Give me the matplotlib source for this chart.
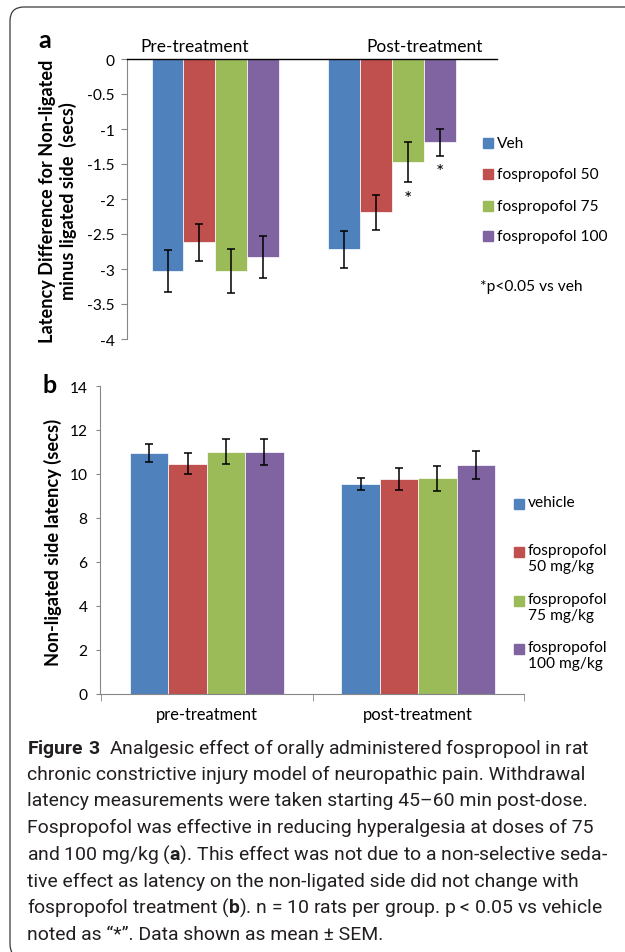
import matplotlib
matplotlib.use("Agg")
import matplotlib.pyplot as plt
from matplotlib import font_manager as fm
from matplotlib.patches import Rectangle, FancyBboxPatch
from matplotlib.transforms import IdentityTransform
import numpy as np

# ---- data ----
groups_a = ["Pre-treatment", "Post-treatment"]
series_a = ["Veh", "fospropofol 50", "fospropofol 75", "fospropofol 100"]
veh_a = [-3.03, -2.72]
f50_a = [-2.62, -2.19]
f75_a = [-3.03, -1.47]
f100_a = [-2.83, -1.19]
veh_a_sem = [0.30, 0.26]
f50_a_sem = [0.27, 0.25]
f75_a_sem = [0.31, 0.29]
f100_a_sem = [0.30, 0.19]
# (series index, group index) marked with *
sig_a = [(2, 1), (3, 1)]

groups_b = ["pre-treatment", "post-treatment"]
series_b = ["vehicle\n", "fospropofol\n50 mg/kg", "fospropofol\n75 mg/kg", "fospropofol\n100 mg/kg"]
veh_b = [10.95, 9.55]
f50_b = [10.47, 9.77]
f75_b = [11.01, 9.80]
f100_b = [10.99, 10.41]
veh_b_sem = [0.42, 0.29]
f50_b_sem = [0.47, 0.49]
f75_b_sem = [0.56, 0.55]
f100_b_sem = [0.58, 0.63]

yticks_a = [0, -0.5, -1, -1.5, -2, -2.5, -3, -3.5, -4]
yticks_b = [0, 2, 4, 6, 8, 10, 12, 14]

colors = ["#4F81BD", "#C0504D", "#9BBB59", "#8064A2"]

caption = [
    r"$\mathbf{Figure\ 3}$  Analgesic effect of orally administered fospropool in rat",
    "chronic constrictive injury model of neuropathic pain. Withdrawal",
    "latency measurements were taken starting 45\u201360 min post-dose.",
    "Fospropofol was effective in reducing hyperalgesia at doses of 75",
    r"and 100 mg/kg ($\mathbf{a}$). This effect was not due to a non-selective seda-",
    "tive effect as latency on the non-ligated side did not change with",
    r"fospropofol treatment ($\mathbf{b}$). n = 10 rats per group. p < 0.05 vs vehicle",
    "noted as \u201c*\u201d. Data shown as mean \u00b1 SEM.",
]


def has_font(name):
    try:
        fm.findfont(fm.FontProperties(family=name), fallback_to_default=False)
        return True
    except ValueError:
        return False


chart_font = "Lato" if has_font("Lato") else "DejaVu Sans"
cap_font = "Liberation Sans Narrow" if has_font("Liberation Sans Narrow") else "Roboto"

plt.rcParams["font.family"] = [chart_font, "DejaVu Sans"]
plt.rcParams["axes.unicode_minus"] = False
plt.rcParams["mathtext.fontset"] = "custom"
plt.rcParams["mathtext.rm"] = cap_font
plt.rcParams["mathtext.bf"] = cap_font + ":bold"

W, H = 625, 953
fig = plt.figure(figsize=(W / 100, H / 100), dpi=100)
renderer = fig.canvas.get_renderer()


def fx(px):
    return px / W


def fy(py):
    return 1 - py / H


def fit_size(s, target_px, **kw):
    # font size that makes string s about target_px wide
    t = fig.text(0, 0, s, fontsize=20, **kw)
    wpx = t.get_window_extent(renderer).width
    t.remove()
    return 20 * target_px / wpx


fs = fit_size("fospropofol 100", 110)
fs_cat = fit_size("Pre-treatment", 109)
fs_catb = fit_size("pre-treatment", 103)
fs_ya = fit_size("Latency Difference for Non-ligated", 282, fontweight="bold")
fs_yb = fit_size("Non-ligated side latency (secs)", 247, fontweight="bold")
cap_size = fit_size(caption[1], 555, family=cap_font)

gray = "#868686"

# ---------------- panel a ----------------
axa = fig.add_axes([fx(127), fy(340), fx(497) - fx(127), fy(60) - fy(340)])
means_a = [veh_a, f50_a, f75_a, f100_a]
sems_a = [veh_a_sem, f50_a_sem, f75_a_sem, f100_a_sem]
x = np.arange(len(groups_a))
w = 0.181
for i, (m, s) in enumerate(zip(means_a, sems_a)):
    xs = x + (i - 1.5) * w
    axa.bar(xs, m, w, color=colors[i], edgecolor="white", linewidth=0.5, zorder=2)
    axa.errorbar(xs, m, yerr=s, fmt="none", ecolor="black", elinewidth=1.1,
                 capsize=3, capthick=1.1, zorder=3)
for si, gi in sig_a:
    xs = x[gi] + (si - 1.5) * w
    y0 = means_a[si][gi] - sems_a[si][gi]
    axa.annotate("*", xy=(xs, y0), xytext=(0, -5.5), textcoords="offset points",
                 ha="center", va="top", fontsize=fs * 1.25)
axa.set_xlim(-0.501, 1.595)
axa.set_ylim(-4, 0)
axa.set_yticks(yticks_a)
axa.set_yticklabels(["%g" % v for v in yticks_a])
axa.set_xticks([])
for sp in ["bottom", "right"]:
    axa.spines[sp].set_visible(False)
axa.spines["top"].set_color("black")
axa.spines["top"].set_linewidth(1.0)
axa.spines["left"].set_color(gray)
axa.tick_params(axis="y", colors=gray, labelcolor="black", labelsize=fs,
                length=4, pad=5)
# category labels sit above the zero line
for gx, name in zip([-0.116, 1.187], groups_a):
    axa.annotate(name, xy=(gx, 0), xytext=(0, 9.5), textcoords="offset points",
                 ha="center", va="center", fontsize=fs_cat)

fig.text(fx(45), fy(41), "a", fontsize=18, fontweight="bold", ha="center", va="center")
fig.text(fx(58), fy(201), "Latency Difference for Non-ligated\nminus ligated side  (secs)",
         rotation=90, fontsize=fs_ya, fontweight="bold", ha="center", va="center",
         linespacing=1.15)

# legend a
for i, (lab, yy) in enumerate(zip(series_a, [144, 175, 207, 237])):
    fig.patches.append(Rectangle((fx(483), fy(yy + 5)), fx(10), 10 / H,
                                 transform=fig.transFigure, color=colors[i]))
    fig.text(fx(497), fy(yy), lab, fontsize=fs, ha="left", va="center")
fig.text(fx(480), fy(287), "*p<0.05 vs veh", fontsize=fs, ha="left", va="center")

# ---------------- panel b ----------------
axb = fig.add_axes([fx(100), fy(695), fx(524) - fx(100), fy(387) - fy(695)])
means_b = [veh_b, f50_b, f75_b, f100_b]
sems_b = [veh_b_sem, f50_b_sem, f75_b_sem, f100_b_sem]
x = np.arange(len(groups_b))
w = 0.1816
for i, (m, s) in enumerate(zip(means_b, sems_b)):
    xs = x + (i - 1.5) * w
    axb.bar(xs, m, w, color=colors[i], edgecolor="white", linewidth=0.5, zorder=2)
    axb.errorbar(xs, m, yerr=s, fmt="none", ecolor="black", elinewidth=1.1,
                 capsize=3, capthick=1.1, zorder=3)
axb.set_xlim(-0.505, 1.495)
axb.set_ylim(0, 14)
axb.set_yticks(yticks_b)
axb.set_xticks(x)
axb.set_xticklabels(groups_b)
axb.set_xticks([-0.5, 0.5, 1.5], minor=True)
for sp in ["top", "right"]:
    axb.spines[sp].set_visible(False)
axb.spines["left"].set_color(gray)
axb.spines["bottom"].set_color(gray)
axb.tick_params(axis="y", colors=gray, labelcolor="black", labelsize=fs,
                length=3, pad=6)
axb.tick_params(axis="x", which="major", length=0, labelsize=fs_catb, pad=9)
axb.tick_params(axis="x", which="minor", length=5, color=gray)

fig.text(fx(50), fy(386), "b", fontsize=18, fontweight="bold", ha="center", va="center")
fig.text(fx(53), fy(542), "Non-ligated side latency (secs)", rotation=90,
         fontsize=fs_yb, fontweight="bold", ha="center", va="center")

# legend b
for i, (lab, yy) in enumerate(zip(series_b, [505, 553, 602, 650])):
    fig.patches.append(Rectangle((fx(514), fy(yy + 5)), fx(10), 10 / H,
                                 transform=fig.transFigure, color=colors[i]))
    fig.text(fx(528), fy(yy - 9), lab, fontsize=fs, ha="left", va="top",
             linespacing=1.2)

# ---------------- caption ----------------
for k, line in enumerate(caption):
    fig.text(fx(27), fy(748 + 26.7 * k), line, fontsize=cap_size, family=cap_font,
             color="#231f20", ha="left", va="center")

# rounded frame around the figure
frame = FancyBboxPatch((10, -6), 660, 951, boxstyle="round,pad=0,rounding_size=14",
                       transform=IdentityTransform(), facecolor="none",
                       edgecolor="#3a3a3a", linewidth=0.9)
fig.patches.append(frame)

fig.savefig("out.png", dpi=100)
